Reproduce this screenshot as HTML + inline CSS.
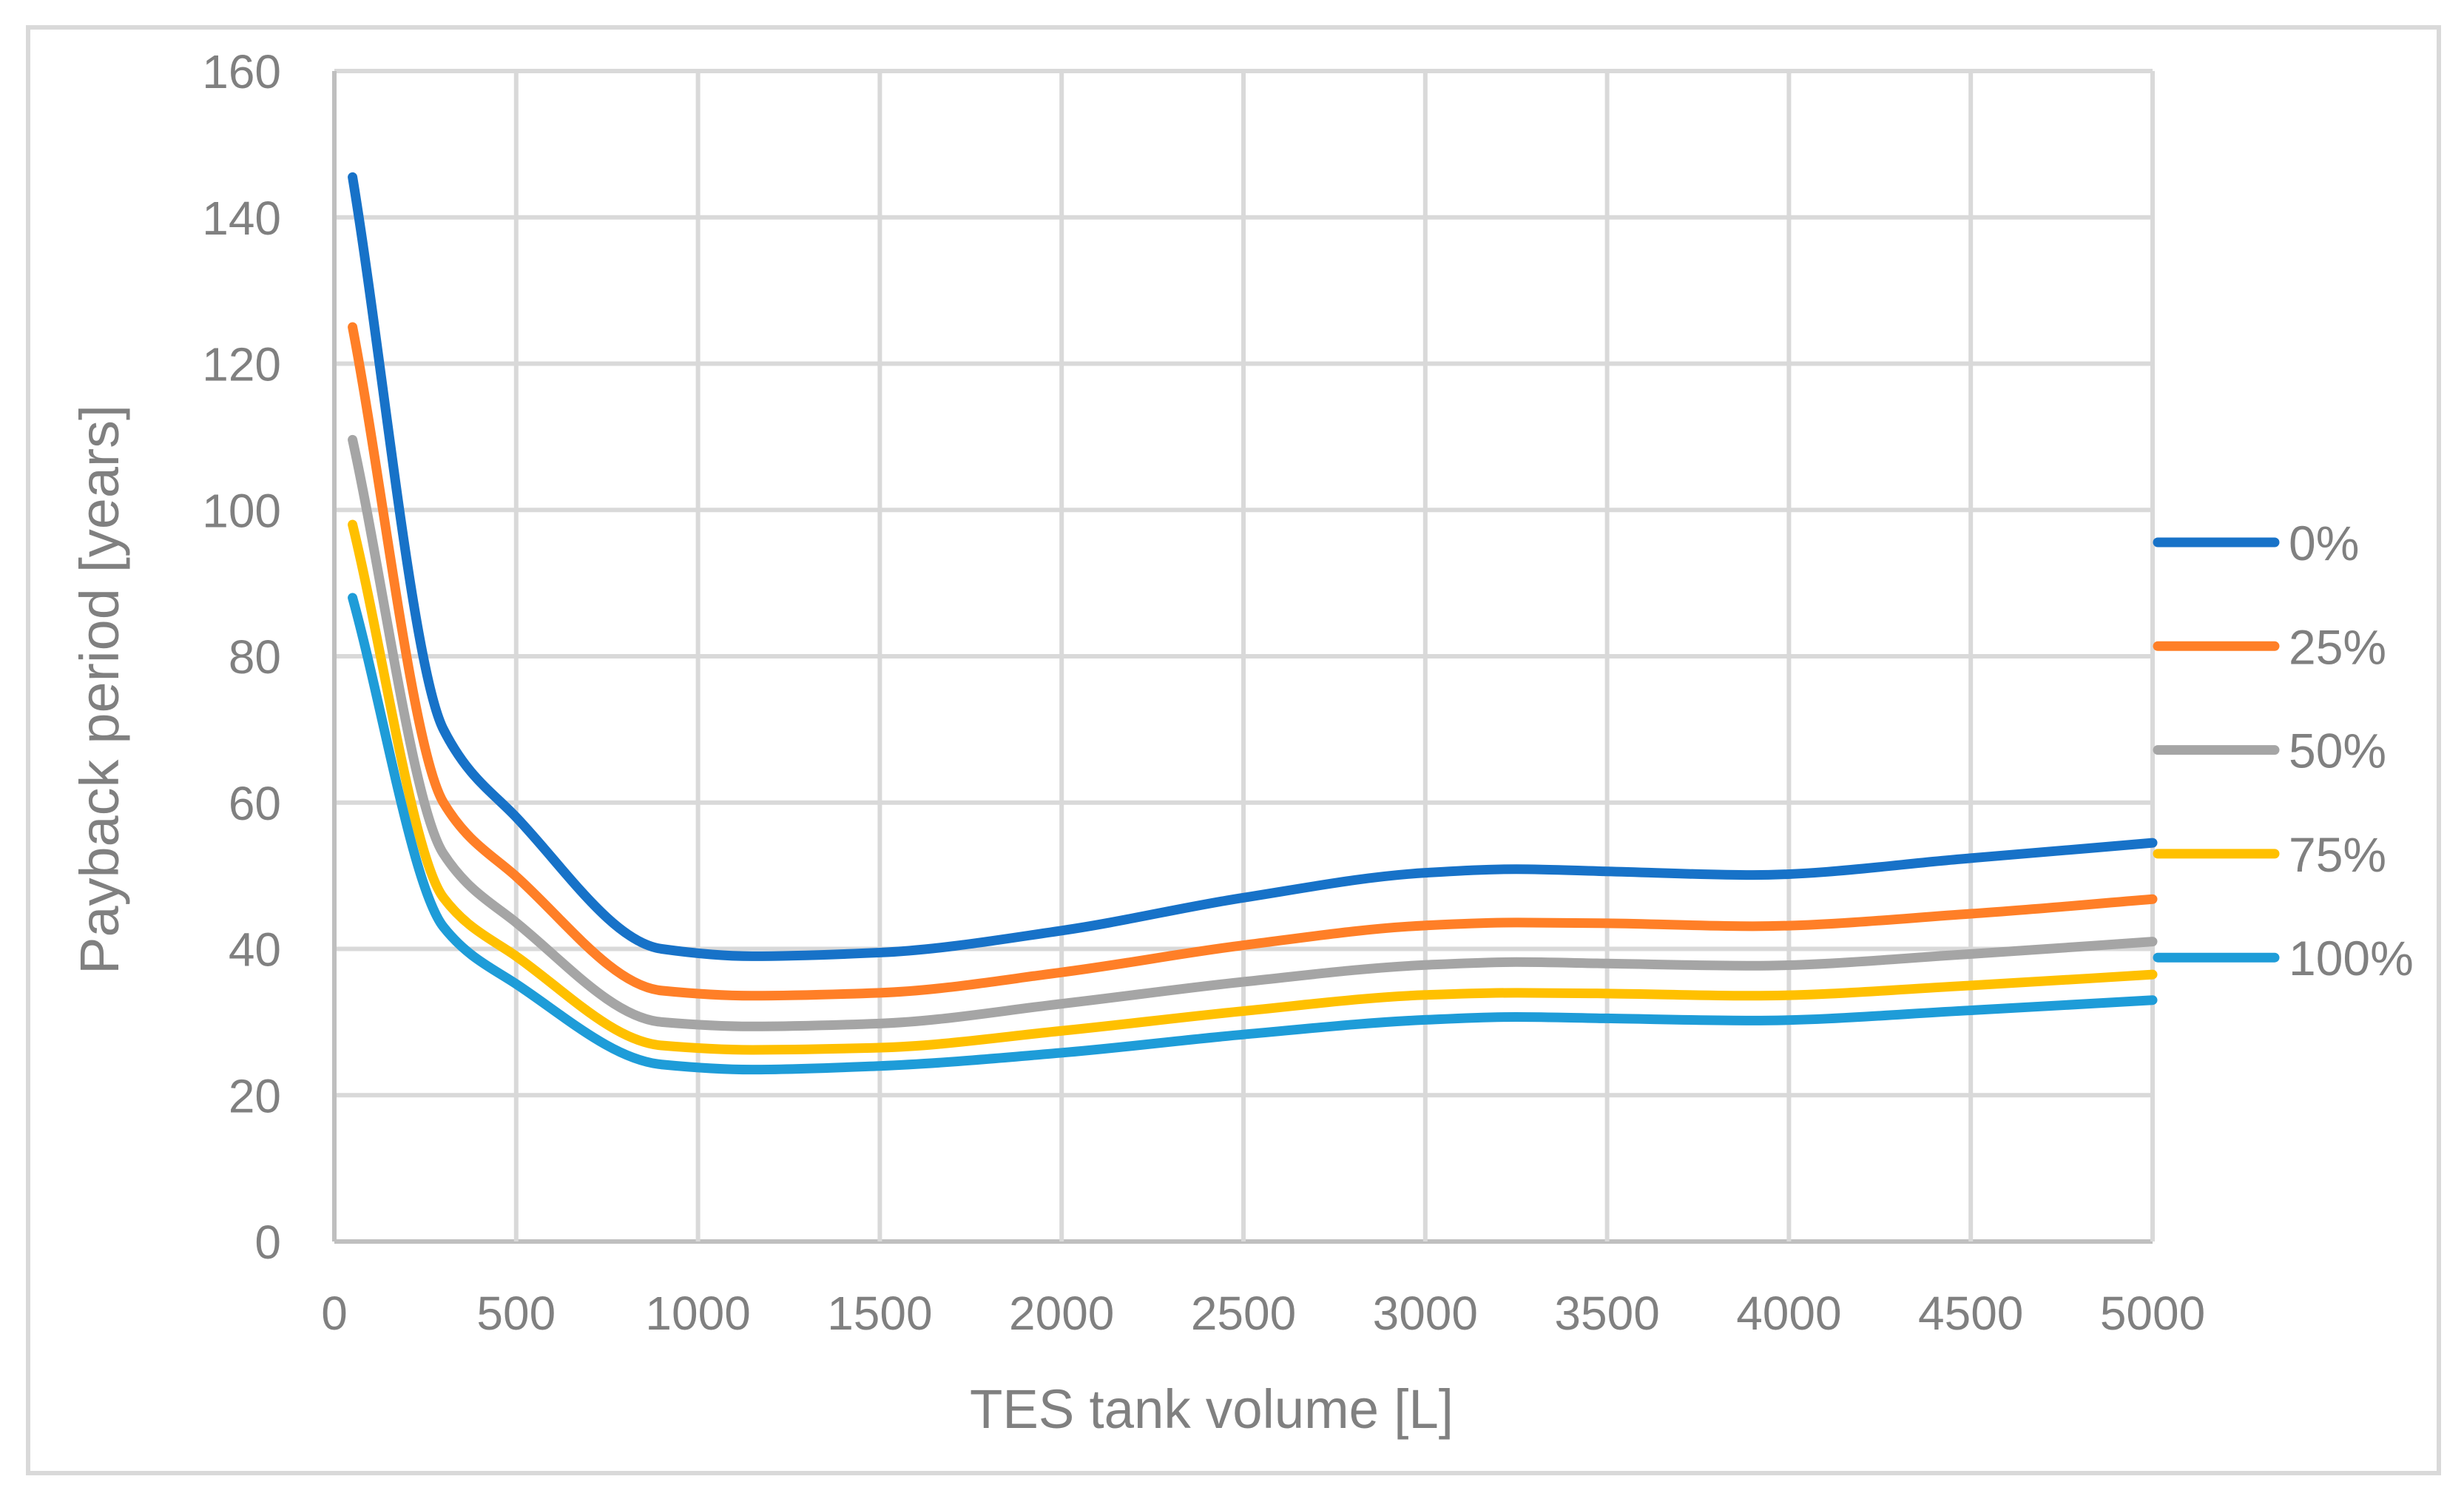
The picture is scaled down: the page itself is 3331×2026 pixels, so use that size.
<!DOCTYPE html>
<html><head><meta charset="utf-8"><title>Payback period vs TES tank volume</title>
<style>
html,body{margin:0;padding:0;background:#fff;}
svg{display:block;font-family:"Liberation Sans",sans-serif;}
</style></head>
<body>
<svg id="chart" width="3331" height="2026" viewBox="0 0 3331 2026" xmlns="http://www.w3.org/2000/svg">
<rect x="38" y="37" width="3259" height="1954" fill="#fff" stroke="#d9d9d9" stroke-width="6"/>
<g id="grid"></g>
<g id="series"></g>
<g id="legend"></g>
<text x="0" y="0" transform="translate(160,932) rotate(-90)" text-anchor="middle" font-size="74" fill="#808080" textLength="770" lengthAdjust="spacingAndGlyphs">Payback period [years]</text>
<text x="1638" y="1930" text-anchor="middle" font-size="74" fill="#808080" textLength="654" lengthAdjust="spacingAndGlyphs">TES tank volume [L]</text>
</svg>
<script>
const xValues=[50,300,500,900,1150,1500,2000,2500,3000,3250,3500,3900,4500,5000];
const seriesNames=["0%","25%","50%","75%","100%"];
const s0=[145.5,70,58,40,39,39.5,42.5,47,50.4,50.9,50.6,50.1,52.4,54.5];
const s25=[125,60,49.9,34.3,33.6,34,36.8,40.5,43.2,43.6,43.5,43.1,44.8,46.8];
const s50=[109.6,53,43.6,30,29.4,29.8,32.5,35.5,37.8,38.2,38,37.7,39.3,41];
const s75=[98,47,39,26.8,26.2,26.5,28.8,31.5,33.7,34,33.9,33.6,35,36.5];
const s100=[88,43,35.2,24.2,23.5,24,25.8,28.3,30.3,30.7,30.5,30.2,31.6,33];
const xTicks=[0,500,1000,1500,2000,2500,3000,3500,4000,4500,5000];
const yTicks=[0,20,40,60,80,100,120,140,160];
const colors=["#1772c8","#ff7f27","#a5a5a5","#ffc000","#1e9cd8"];
const allSeries=[s0,s25,s50,s75,s100];

const L=452,R=2910,T=96,B=1678;
const X=v=>L+(v-0)/(5000-0)*(R-L);
const Y=v=>B-(v-0)/(160-0)*(B-T);
const NS="http://www.w3.org/2000/svg";
function mk(tag,attrs,parent){const e=document.createElementNS(NS,tag);for(const k in attrs)e.setAttribute(k,attrs[k]);parent.appendChild(e);return e;}
const grid=document.getElementById('grid');
yTicks.forEach(t=>{
  const ln=mk('line',{x1:L,x2:R,y1:Y(t),y2:Y(t),stroke:t===0?'#bfbfbf':'#d9d9d9','stroke-width':6},grid);
  
  
  const tx=mk('text',{x:380,y:Y(t)+23,'text-anchor':'end','font-size':64,fill:'#808080'},grid);
  tx.textContent=t;
  
  
});
xTicks.forEach(t=>{
  const ln=mk('line',{x1:X(t),x2:X(t),y1:T,y2:B,stroke:t===0?'#bfbfbf':'#d9d9d9','stroke-width':6},grid);
  
  
  const tx=mk('text',{x:X(t),y:1797,'text-anchor':'middle','font-size':64,fill:'#808080'},grid);
  tx.textContent=t;
  
  
});
function smoothPath(xs,ys){
  const n=xs.length;
  const px=xs.map(X), py=ys.map(Y);
  const d=[];for(let i=0;i<n-1;i++)d.push((py[i+1]-py[i])/(px[i+1]-px[i]));
  const m=new Array(n);
  m[0]=d[0];m[n-1]=d[n-2];
  for(let i=1;i<n-1;i++){
    if(d[i-1]*d[i]<=0){m[i]=0;}
    else{
      const h0=px[i]-px[i-1],h1=px[i+1]-px[i];
      const w1=2*h1+h0,w2=h1+2*h0;
      m[i]=(w1+w2)/(w1/d[i-1]+w2/d[i]);
    }
  }
  let s='M'+px[0]+','+py[0];
  for(let i=0;i<n-1;i++){
    const h=(px[i+1]-px[i])/3;
    s+=' C'+(px[i]+h)+','+(py[i]+m[i]*h)+' '+(px[i+1]-h)+','+(py[i+1]-m[i+1]*h)+' '+px[i+1]+','+py[i+1];
  }
  return s;
}
const sg=document.getElementById('series');
const lg=document.getElementById('legend');
allSeries.forEach((s,i)=>{
  const path=mk('path',{d:smoothPath(xValues,s),fill:'none',stroke:colors[i],'stroke-width':13,'stroke-linecap':'round','stroke-linejoin':'round'},sg);
  
  
  const ly=733+i*140.3;
  const ll=mk('line',{x1:2917,x2:3075,y1:ly,y2:ly,stroke:colors[i],'stroke-width':13,'stroke-linecap':'round'},lg);
  
  
  const lt=mk('text',{x:3094,y:ly+24,'font-size':66,fill:'#808080'},lg);
  lt.textContent=seriesNames[i];
  
  
});
</script>
</body></html>
